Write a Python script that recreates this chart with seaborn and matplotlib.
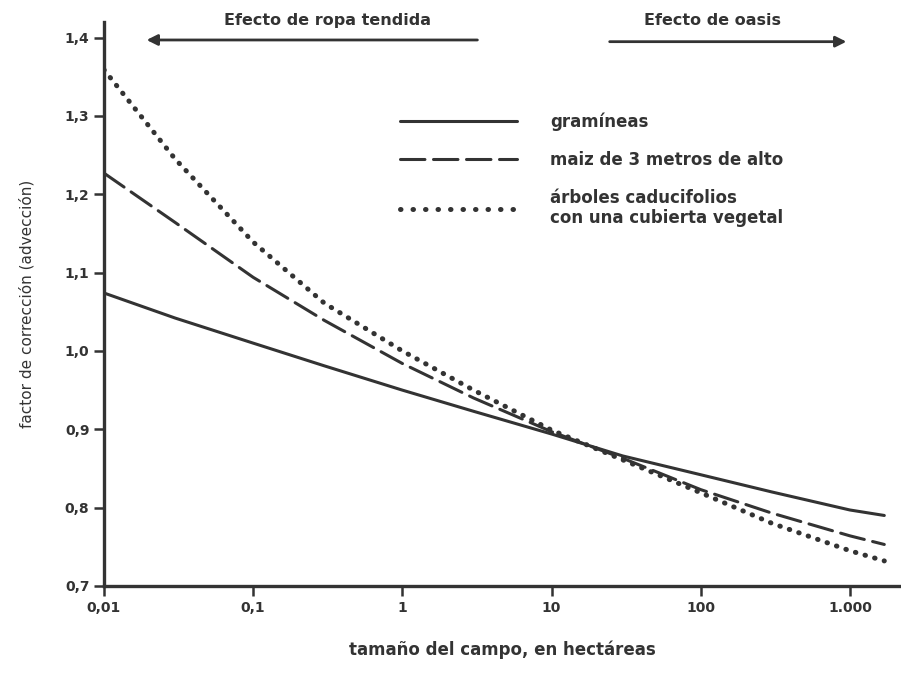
import numpy as np
import pandas as pd
import matplotlib
matplotlib.use("Agg")
import matplotlib.pyplot as plt
from matplotlib.ticker import FixedLocator, NullLocator
import seaborn as sns

# values
hectareas = [0.01, 0.03, 0.1, 0.3, 1, 3, 10, 30, 100, 300, 1000, 1700]
gramineas = [1.074, 1.042, 1.010, 0.981, 0.950, 0.923, 0.894, 0.866, 0.842, 0.820, 0.797, 0.790]
maiz = [1.227, 1.164, 1.094, 1.039, 0.984, 0.940, 0.897, 0.863, 0.823, 0.793, 0.764, 0.753]
arboles = [1.359, 1.245, 1.139, 1.061, 1.000, 0.950, 0.899, 0.861, 0.819, 0.780, 0.745, 0.732]

series_names = ["gramíneas", "maiz de 3 metros de alto",
                "árboles caducifolios\ncon una cubierta vegetal"]
x_ticks = [0.01, 0.1, 1, 10, 100, 1000]
x_tick_labels = ["0,01", "0,1", "1", "10", "100", "1.000"]
y_ticks = [0.7, 0.8, 0.9, 1.0, 1.1, 1.2, 1.3, 1.4]
y_tick_labels = ["0,7", "0,8", "0,9", "1,0", "1,1", "1,2", "1,3", "1,4"]

ink = "#333333"

df = pd.DataFrame({
    "hectareas": hectareas * 3,
    "factor": gramineas + maiz + arboles,
    "serie": [series_names[0]] * len(hectareas)
             + [series_names[1]] * len(hectareas)
             + [series_names[2]] * len(hectareas),
})

sns.set_style("ticks")
plt.rcParams["font.family"] = ["DejaVu Sans"]

fig = plt.figure(figsize=(9.01, 6.79), dpi=100)
ax = fig.add_axes([0.1154, 0.137, 0.8846, 0.8307])

dashes = {series_names[0]: "", series_names[1]: (8, 2.8), series_names[2]: (0.1, 1.9)}
sns.lineplot(data=df, x="hectareas", y="factor", hue="serie", style="serie",
             palette=[ink] * 3, dashes=dashes, linewidth=2.2, ax=ax, legend=True)

for line in ax.get_lines():
    line.set_dash_capstyle("round")
ax.get_lines()[2].set_linewidth(3.6)

ax.set_xscale("log")
ax.set_xlim(0.01, 2200)
ax.set_ylim(0.7, 1.42)
ax.xaxis.set_major_locator(FixedLocator(x_ticks))
ax.xaxis.set_minor_locator(NullLocator())
ax.set_xticklabels(x_tick_labels)
ax.set_yticks(y_ticks)
ax.set_yticklabels(y_tick_labels)
ax.tick_params(direction="out", length=7, width=1.8, color=ink, labelcolor=ink,
               labelsize=10)
for lab in ax.get_xticklabels() + ax.get_yticklabels():
    lab.set_fontweight("bold")

sns.despine(ax=ax)
for side in ["left", "bottom"]:
    ax.spines[side].set_linewidth(2.4)
    ax.spines[side].set_color(ink)

ax.set_xlabel("tamaño del campo, en hectáreas", fontsize=12, fontweight="bold",
              color=ink, labelpad=19)
ax.set_ylabel("factor de corrección (advección)", fontsize=11, color=ink, labelpad=22)

# legend
handles, labels = ax.get_legend_handles_labels()
for h in handles:
    h.set_dash_capstyle("round")
handles[2].set_linewidth(3.6)
handles[2].set_dashes((0.1, 2.4))
leg = ax.legend(handles, labels, loc="upper left", bbox_to_anchor=(0.372, 0.84),
                frameon=False, fontsize=12, handlelength=7.0, handletextpad=2.0,
                labelspacing=1.2, borderpad=0, borderaxespad=0)
for t in leg.get_texts():
    t.set_fontweight("bold")
    t.set_color(ink)

# top arrows
ax.annotate("", xy=(0.05, 0.968), xytext=(0.472, 0.968), xycoords="axes fraction",
            arrowprops=dict(arrowstyle="-|>", color=ink, lw=2.0, mutation_scale=16),
            annotation_clip=False)
ax.text(0.28, 0.99, "Efecto de ropa tendida", transform=ax.transAxes, ha="center",
        va="bottom", fontsize=11.5, fontweight="bold", color=ink, clip_on=False)
ax.annotate("", xy=(0.935, 0.965), xytext=(0.631, 0.965), xycoords="axes fraction",
            arrowprops=dict(arrowstyle="-|>", color=ink, lw=2.0, mutation_scale=16),
            annotation_clip=False)
ax.text(0.763, 0.99, "Efecto de oasis", transform=ax.transAxes, ha="center",
        va="bottom", fontsize=11.5, fontweight="bold", color=ink, clip_on=False)

fig.savefig("out.png", dpi=100)
